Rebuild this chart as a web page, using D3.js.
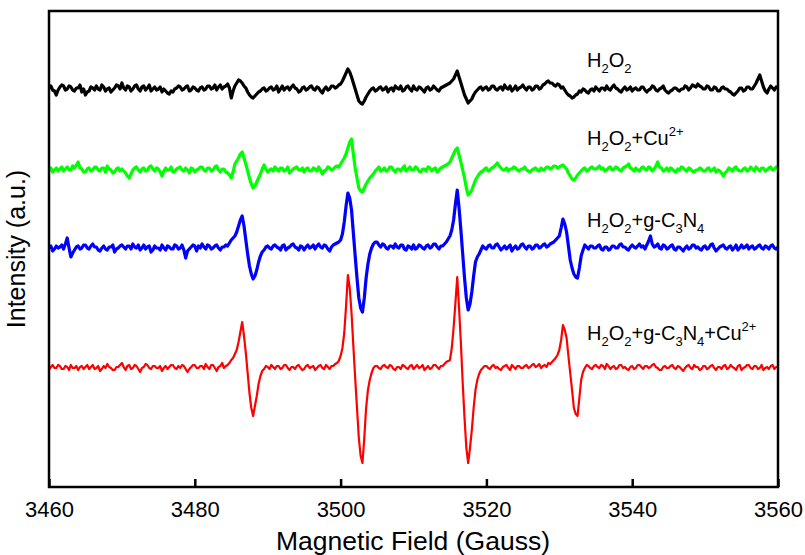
<!DOCTYPE html>
<html>
<head>
<meta charset="utf-8">
<script src="https://cdn.jsdelivr.net/npm/d3@7"></script>
<style>
  body { margin: 0; background: #fff; }
  text { font-family: Arial, "Liberation Sans", sans-serif; fill: #000; }
</style>
</head>
<body>
<svg id="chart" width="805" height="555"></svg>
<script>
// Field sweep (Gauss) and bottom-axis ticks
const fieldStart = 3460;
const fieldEnd = 3560;
const xTicks = [3460, 3480, 3500, 3520, 3540, 3560];

// EPR spectra, one reading every 0.25 G from 3460 to 3560 G (arbitrary units);
// each row covers 5 G
const specH2O2 = [
  1, 3, -1, -2, -6, -1, 2, 4, 3, -1, 0, 3, 2, -1, -2, 1, 1, 4, -3, 0,
  -6, -3, -2, 2, 1, -1, 3, 0, -1, 4, 2, -2, 0, 1, -3, -1, 1, 4, 3, 0,
  6, 1, -1, 3, 2, -2, 0, 3, 4, 0, -2, 2, 3, -1, 1, 4, -2, 0, 2, -1,
  0, 2, -3, 0, -2, -4, -5, -2, -3, 0, 1, 3, 2, -1, 0, 2, 3, -2, -1, 2,
  1, -1, -2, 1, 2, -1, 0, 3, 3, 0, 1, 4, -1, 2, 4, 0, 2, 3, 5, 1,
  -9, -2, 3, 6, 9, 8, 6, 3, 1, -3, -6, -8, -9, -7, -5, -3, -2, 0, 1, -2,
  -1, 1, 2, -1, 0, 3, -3, 0, 3, -1, 1, 2, -1, 2, 4, 1, 0, -3, -2, 1,
  2, -1, 0, 2, 3, 0, -1, 2, 1, -2, -4, 0, 2, -1, 0, 3, 3, 1, 2, 4,
  5, 8, 12, 16, 20, 17, 12, 6, 0, -6, -12, -14, -15, -12, -8, -5, -2, 0, 1, -2,
  -1, 1, 2, -1, 0, 2, -3, 0, 1, -2, 3, 1, 0, 3, -2, -1, 2, 3, 0, -2,
  3, 0, -1, 2, 1, -1, -3, 1, 2, -1, 0, 3, 1, -1, -2, 1, 2, 3, 4, 5,
  6, 8, 10, 14, 18, 12, 6, 0, -6, -10, -14, -12, -10, -6, -3, -1, 1, 2, -1, 1,
  2, -1, 0, 3, 3, 0, -1, 1, 2, -1, 4, 1, 0, 3, -2, 0, 3, -1, 1, 2,
  4, 1, -1, 2, 2, -1, 0, 3, 3, 0, 1, 4, 5, 7, 8, 6, 6, 4, 3, 5,
  4, 1, 2, -1, -4, -6, -7, -9, -8, -6, -5, -2, -3, 0, -1, -3, -4, -1, 0, -2,
  2, 0, -2, 1, 1, -1, 3, 0, -1, 2, 4, 1, 0, -2, -3, 0, 2, -1, 0, 2,
  -2, 0, 1, -1, -1, 2, 2, -1, -3, -1, 0, 3, 2, -1, -2, 0, 1, 3, -1, -3,
  -4, -2, -1, 1, 1, -1, -2, 0, 0, 3, 2, -1, 1, 4, 3, 2, 5, 3, 2, 0,
  0, 3, 2, -1, -1, 2, 1, -2, -2, 1, 2, 0, 0, -2, -3, -5, -6, -4, -2, 1,
  1, -2, -1, 2, 2, 0, 0, 3, 6, 10, 14, 8, 2, -2, -4, 0, 3, 1, -1, 2,
  1
];

const specH2O2Cu = [
  0, 2, -2, 0, 2, -1, 1, 3, -1, 1, 3, 0, 0, 4, 2, 5, 8, 2, 1, -2,
  -2, 1, 2, -1, 0, 3, 3, 0, -1, 2, 2, -2, 4, 1, 0, -3, -2, 1, 2, -1,
  1, -1, -3, -6, -8, -4, 0, 2, 3, 0, -2, 1, 2, -1, 0, 3, 4, 1, -1, 2,
  1, -2, -6, -1, 2, 0, 0, 3, -2, -1, 1, 2, 3, 0, -1, 2, 0, -3, 2, 1,
  -2, 0, 1, 3, 3, 0, -1, 2, 2, -1, 0, 3, 4, 0, -2, 1, 1, -2, -3, -5,
  -8, -2, 6, 9, 12, 16, 18, 12, 6, -1, -8, -14, -18, -16, -12, -8, -4, 1, 5, 1,
  -2, 0, 1, -1, 3, 1, -1, 2, 2, -1, 0, 3, -3, -1, 1, 2, 3, 0, 0, 2,
  -2, 1, 2, -1, -1, 2, 1, -1, 3, 0, -4, -1, 0, 3, 2, 0, 1, 3, 4, 3,
  6, 9, 12, 16, 22, 28, 31, 16, 2, -8, -18, -21, -22, -18, -14, -11, -8, -6, -4, -1,
  1, 3, -1, 0, 2, -1, 0, 3, 3, 0, -2, 1, 1, -1, 2, 4, -1, 1, 3, 0,
  0, 3, 2, -1, -2, 1, 1, -1, 3, 2, -1, 1, 2, -2, 0, 2, 3, 4, 5, 6,
  8, 12, 16, 20, 22, 15, 8, 0, -8, -18, -25, -23, -20, -15, -10, -7, -4, -2, -1, 1,
  2, -1, 0, 2, 3, 5, 7, 4, 2, 0, 0, 2, -1, 1, 1, 3, 2, 0, -1, 1,
  1, 3, 0, -1, -2, 0, 1, 2, 0, -1, 2, 0, 1, 3, 3, 1, 2, 4, 4, 2,
  3, 4, 5, 3, 1, -3, -6, -9, -10, -8, -5, -3, -1, 1, 2, -1, 0, 2, 3, 1,
  1, 2, 4, 1, 2, -1, 0, 2, 3, 0, 1, 3, 2, 0, -1, 2, 3, 4, 6, 2,
  1, -1, 2, 0, -1, 2, 3, 1, 0, 3, 2, -1, 1, 4, 8, 3, 2, -1, 0, 2,
  -1, 2, 1, -1, -2, 1, 0, 3, 2, 0, -1, 2, 1, -1, -2, 0, 0, 2, 1, -1,
  -1, 1, 2, -1, 0, 2, -2, 0, -1, -3, -6, -3, -1, 2, 1, -1, 2, 3, 0, -1,
  -1, 1, 2, -1, 0, 3, 1, -1, 3, 1, -1, 2, 2, -1, 0, 2, 3, 0, 1, 3,
  2
];

const specH2O2CN = [
  0, 2, -3, -1, 2, 0, 1, 3, -1, 4, 10, 0, -9, -5, -2, 1, 2, -1, 0, 3,
  3, 0, -1, 2, 4, 1, 1, -2, -3, 0, 2, -1, -2, 1, 1, 3, -4, -1, 0, 2,
  3, 1, -1, 2, 2, -1, 4, 1, 0, 3, -2, 0, 3, -1, 1, 2, -4, -2, 2, 0,
  0, -2, 3, 0, -2, 2, 1, -1, -1, 3, 2, -1, 0, 3, -2, -10, -3, -1, 1, 3,
  2, -3, 2, 0, 4, 1, -1, 3, 2, -1, 0, 2, 3, 0, -2, 1, 1, 3, 2, 5,
  8, 10, 12, 16, 22, 28, 32, 22, 8, -6, -18, -26, -31, -28, -22, -14, -8, -4, -2, 1,
  2, 0, -1, 2, 3, 1, 0, -2, 2, 3, -2, 0, 1, 3, 4, 1, 0, -2, 2, 1,
  -2, 1, 3, 0, 1, 3, -1, 2, 4, 1, 0, 3, 2, -1, -3, 1, 3, 4, 5, 6,
  8, 14, 26, 42, 55, 50, 38, 15, -8, -30, -50, -60, -64, -50, -30, -16, -6, 0, 4, 6,
  6, 3, 1, 4, 3, 0, -1, 2, 2, 0, 4, 1, 0, 3, 3, -1, -2, 2, 1, -1,
  3, -1, 0, 3, 2, 0, -1, 2, 3, 0, 1, 4, 4, 1, -1, 2, 2, 4, 6, 9,
  12, 18, 28, 44, 58, 40, 18, -6, -30, -50, -62, -56, -44, -28, -14, -9, -6, -2, 2, 0,
  -1, 2, 3, 0, 0, 3, 4, 1, -2, 0, 2, -1, 1, 3, -3, 0, 2, -1, 0, 3,
  4, 1, -1, 2, 2, -1, 0, 3, 3, 0, 1, 3, 4, 1, 2, 4, 5, 6, 8, 10,
  12, 20, 29, 24, 16, 2, -12, -20, -26, -29, -30, -20, -8, -2, 3, 1, -1, 2, 2, 0,
  0, 2, 3, -1, -2, 1, 1, -2, -1, 2, 2, 0, 0, 3, 4, 1, 1, -1, -2, 1,
  3, 1, 0, 2, 4, 1, 2, -1, 3, 7, 12, 4, 1, 2, 4, 0, -1, 3, 2, -1,
  0, 2, 3, -1, -2, 1, 1, -1, -3, 0, 2, -1, 0, 3, 3, 0, 1, -1, -2, 1,
  2, -1, 0, 3, 4, 0, -3, -1, 1, 2, 3, 0, -1, 1, 2, -2, 0, 3, -2, 0,
  3, 0, 1, 3, -1, 1, 2, -1, 0, 2, 3, 0, -1, 2, 1, -1, 2, 3, 0, -1,
  1
];

const specH2O2CNCu = [
  -2, 1, 3, 0, 0, 3, 2, -1, -1, 2, 1, -2, 3, 0, 0, 2, -2, 1, 2, -1,
  1, 3, -1, 1, 3, -1, 0, 2, -3, -1, 2, 0, 4, 1, 0, -2, -2, 1, 1, 3,
  5, 1, -2, 2, 3, -1, 0, 3, 2, -1, -4, 0, 1, 4, 3, 0, -1, 2, 2, 0,
  0, 2, -3, 0, 2, -1, 1, 3, 3, 0, -1, 2, 0, 3, 2, -1, -4, -1, 1, 3,
  3, 0, 0, 2, 2, -1, 4, 1, -1, 3, 3, 0, -3, 1, 2, 5, 0, 2, 3, 5,
  8, 10, 14, 18, 26, 36, 46, 32, 15, -5, -25, -40, -48, -38, -28, -16, -8, -3, -1, 2,
  1, -1, 3, 1, -1, 2, 2, -1, 0, 3, 3, 0, -2, 1, 1, -1, 2, 3, 0, -2,
  -1, 2, 3, 0, 1, 2, -2, 0, 2, 3, 0, -1, 3, 1, -1, 2, 2, 4, 5, 7,
  12, 20, 35, 62, 93, 80, 55, 22, -10, -40, -70, -88, -95, -70, -40, -22, -12, -5, 0, 2,
  2, 0, -1, 2, 3, 1, 0, 3, 2, -1, -2, 1, 1, -1, 3, 2, 0, -1, 2, 3,
  -1, 1, 3, 0, 1, 3, -2, 0, 2, -1, 0, 3, 3, 1, -1, 2, 2, 4, 6, 7,
  8, 20, 40, 65, 91, 60, 25, -15, -50, -80, -95, -80, -62, -40, -22, -12, -6, -2, 0, 2,
  2, 0, -1, 2, 3, 0, 1, -1, -2, 1, 2, 3, 0, -2, 3, 1, -1, 2, 2, 0,
  0, 2, 3, 0, 1, 3, 4, 1, 2, 4, 0, 2, 3, 1, 5, 4, 6, 8, 10, 13,
  18, 28, 43, 38, 30, 12, -5, -22, -40, -46, -48, -30, -12, -4, 0, 3, 2, 0, -1, 2,
  3, 1, 0, 3, 2, -1, 4, 2, -1, 1, 2, -1, 0, 3, 3, 0, 1, -1, -2, 1,
  2, -1, 0, 3, 3, 1, -1, 2, 2, 0, 1, 3, 4, 1, 0, -2, -2, 1, 2, 0,
  0, 2, 3, 0, -1, 2, 1, -1, -3, 0, 2, 3, 0, -1, 3, 1, 1, -2, -1, 2,
  2, -1, 0, 2, 3, 0, -2, 1, 1, -1, 2, 3, -1, 0, 3, 1, 0, -2, 2, 3,
  -2, 0, 1, 3, 3, 0, -1, 2, 2, -1, 0, 3, -2, 0, 1, -1, 2, 3, -1, 1,
  1
];

// Vertical stacking offset of each spectrum (a.u.)
const stackOffsets = [398, 317, 239, 119];

// Sample names; each part is [text, "sub" | "sup" | ""]
const sampleLabels = [
  [["H"], ["2", "sub"], ["O"], ["2", "sub"]],
  [["H"], ["2", "sub"], ["O"], ["2", "sub"], ["+Cu"], ["2+", "sup"]],
  [["H"], ["2", "sub"], ["O"], ["2", "sub"], ["+g-C"], ["3", "sub"], ["N"], ["4", "sub"]],
  [["H"], ["2", "sub"], ["O"], ["2", "sub"], ["+g-C"], ["3", "sub"], ["N"], ["4", "sub"], ["+Cu"], ["2+", "sup"]]
];

const xTitle = "Magnetic Field (Gauss)";
const yTitle = "Intensity (a.u.)";

// ---- drawing ----
const spectra = [specH2O2, specH2O2Cu, specH2O2CN, specH2O2CNCu];
const colors = ["#000000", "#00ff00", "#0000ff", "#ff0000"];
const widths = [3.2, 3.2, 3.2, 2.2];
const labelLift = [22, 25, 21, 28];

const W = 805, H = 555;
const margin = { top: 11, right: 27, bottom: 68, left: 49 };
const iw = W - margin.left - margin.right;
const ih = H - margin.top - margin.bottom;

const svg = d3.select("#chart");
const g = svg.append("g").attr("transform", `translate(${margin.left},${margin.top})`);

const x = d3.scaleLinear().domain([fieldStart, fieldEnd]).range([0, iw]);
const y = d3.scaleLinear().domain([0, ih]).range([ih, 0]);

// spectra
spectra.forEach((vals, k) => {
  const step = (fieldEnd - fieldStart) / (vals.length - 1);
  const line = d3.line()
    .x((d, i) => x(fieldStart + i * step))
    .y(d => y(d + stackOffsets[k]));
  g.append("path")
    .datum(vals)
    .attr("fill", "none")
    .attr("stroke", colors[k])
    .attr("stroke-width", widths[k])
    .attr("stroke-linejoin", "round")
    .attr("d", line);
});

// sample labels
const labelField = 3533.8;
sampleLabels.forEach((parts, k) => {
  const t = g.append("text")
    .attr("x", x(labelField))
    .attr("y", y(stackOffsets[k]) - labelLift[k])
    .attr("font-size", 20);
  let shift = 0;
  parts.forEach(([txt, kind]) => {
    const target = kind === "sub" ? 6 : kind === "sup" ? -9 : 0;
    t.append("tspan")
      .attr("dy", target - shift)
      .attr("font-size", kind ? 13 : 20)
      .text(txt);
    shift = target;
  });
});

// frame
g.append("rect")
  .attr("x", 0).attr("y", 0)
  .attr("width", iw).attr("height", ih)
  .attr("fill", "none")
  .attr("stroke", "#000")
  .attr("stroke-width", 2.5);

// bottom axis with inward ticks
const xAxis = g.append("g")
  .attr("transform", `translate(0,${ih})`)
  .call(d3.axisBottom(x).tickValues(xTicks).tickSize(-8).tickPadding(14).tickFormat(d3.format("d")));
xAxis.select(".domain").remove();
xAxis.selectAll(".tick line").attr("stroke", "#000").attr("stroke-width", 2.5);
xAxis.selectAll(".tick text")
  .attr("font-size", 22)
  .attr("font-family", "Arial, 'Liberation Sans', sans-serif")
  .attr("fill", "#000");

// axis titles
svg.append("text")
  .attr("x", 413)
  .attr("y", 550)
  .attr("text-anchor", "middle")
  .attr("font-size", 26.5)
  .text(xTitle);

svg.append("text")
  .attr("transform", `translate(25,249) rotate(-90)`)
  .attr("text-anchor", "middle")
  .attr("font-size", 25)
  .text(yTitle);
</script>
</body>
</html>
